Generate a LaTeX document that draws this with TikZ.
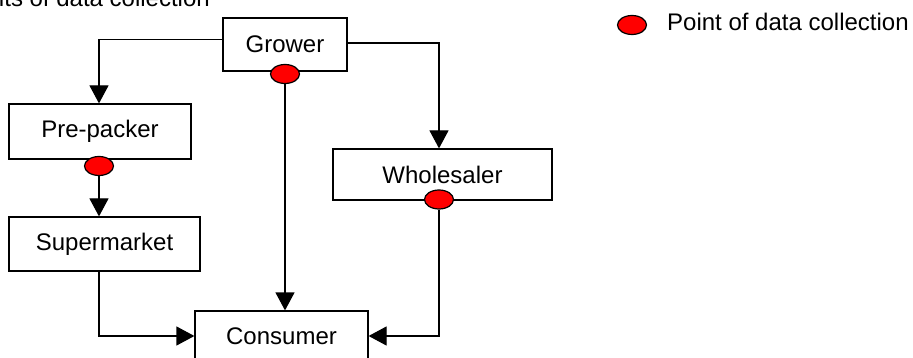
\documentclass[tikz,border=0pt]{standalone}
\usepackage{fontspec}
\setmainfont{Liberation Sans}
\usetikzlibrary{arrows.meta,shapes.geometric}
\begin{document}
\begin{tikzpicture}[x=1pt,y=-1pt,
  every node/.style={font=\fontsize{24}{28}\selectfont},
  box/.style={draw, line width=1.2pt, inner sep=0pt, fill=white},
  dot/.style={ellipse, draw, fill=red, line width=1.2pt, inner sep=0pt, minimum width=29pt, minimum height=19pt},
  lbl/.style={inner sep=0pt},
  arr/.style={line width=1.2pt, -{Triangle[width=19pt,length=18pt]}},
  ln/.style={line width=1.2pt}]
\useasboundingbox (0,0) rectangle (913,358);
\clip (0,0) rectangle (913,358);
\fill[white] (0,0) rectangle (913,358);

% clipped heading
\node[lbl, anchor=base east] (heading) at (210,7) {Points of data collection};

% boxes
\node[box, minimum width=124pt, minimum height=53pt] (grower) at (285,44.5) {Grower};
\node[box, minimum width=182pt, minimum height=55pt] (prepacker) at (100,131.5) {Pre-packer};
\node[box, minimum width=191pt, minimum height=54pt] (supermarket) at (104.5,244) {Supermarket};
\node[box, minimum width=219pt, minimum height=51pt] (wholesaler) at (442.5,174.5) {Wholesaler};
\node[box, minimum width=173pt, minimum height=50pt] (consumer) at (281.5,336) {Consumer};

% data collection points
\node[dot] (gdot) at (285,74) {};
\node[dot] (pdot) at (99,166) {};
\node[dot] (wdot) at (439,199.5) {};

% connectors
\draw[arr] ([yshift=5pt]grower.west) -| (prepacker.north -| pdot);
\draw[arr] ([yshift=1.5pt]grower.east) -| (wholesaler.north -| wdot);
\draw[arr] (gdot.south) -- (gdot.south |- consumer.north);
\draw[arr] (pdot.south) -- (pdot.south |- supermarket.north);
\draw[arr] (supermarket.south -| pdot) |- (consumer.west);
\draw[arr] (wdot.south) |- (consumer.east);

% legend
\node[dot] (legdot) at (632,25) {};
\node[lbl, anchor=base west] (legtext) at (667,31) {Point of data collection};
\end{tikzpicture}
\end{document}
